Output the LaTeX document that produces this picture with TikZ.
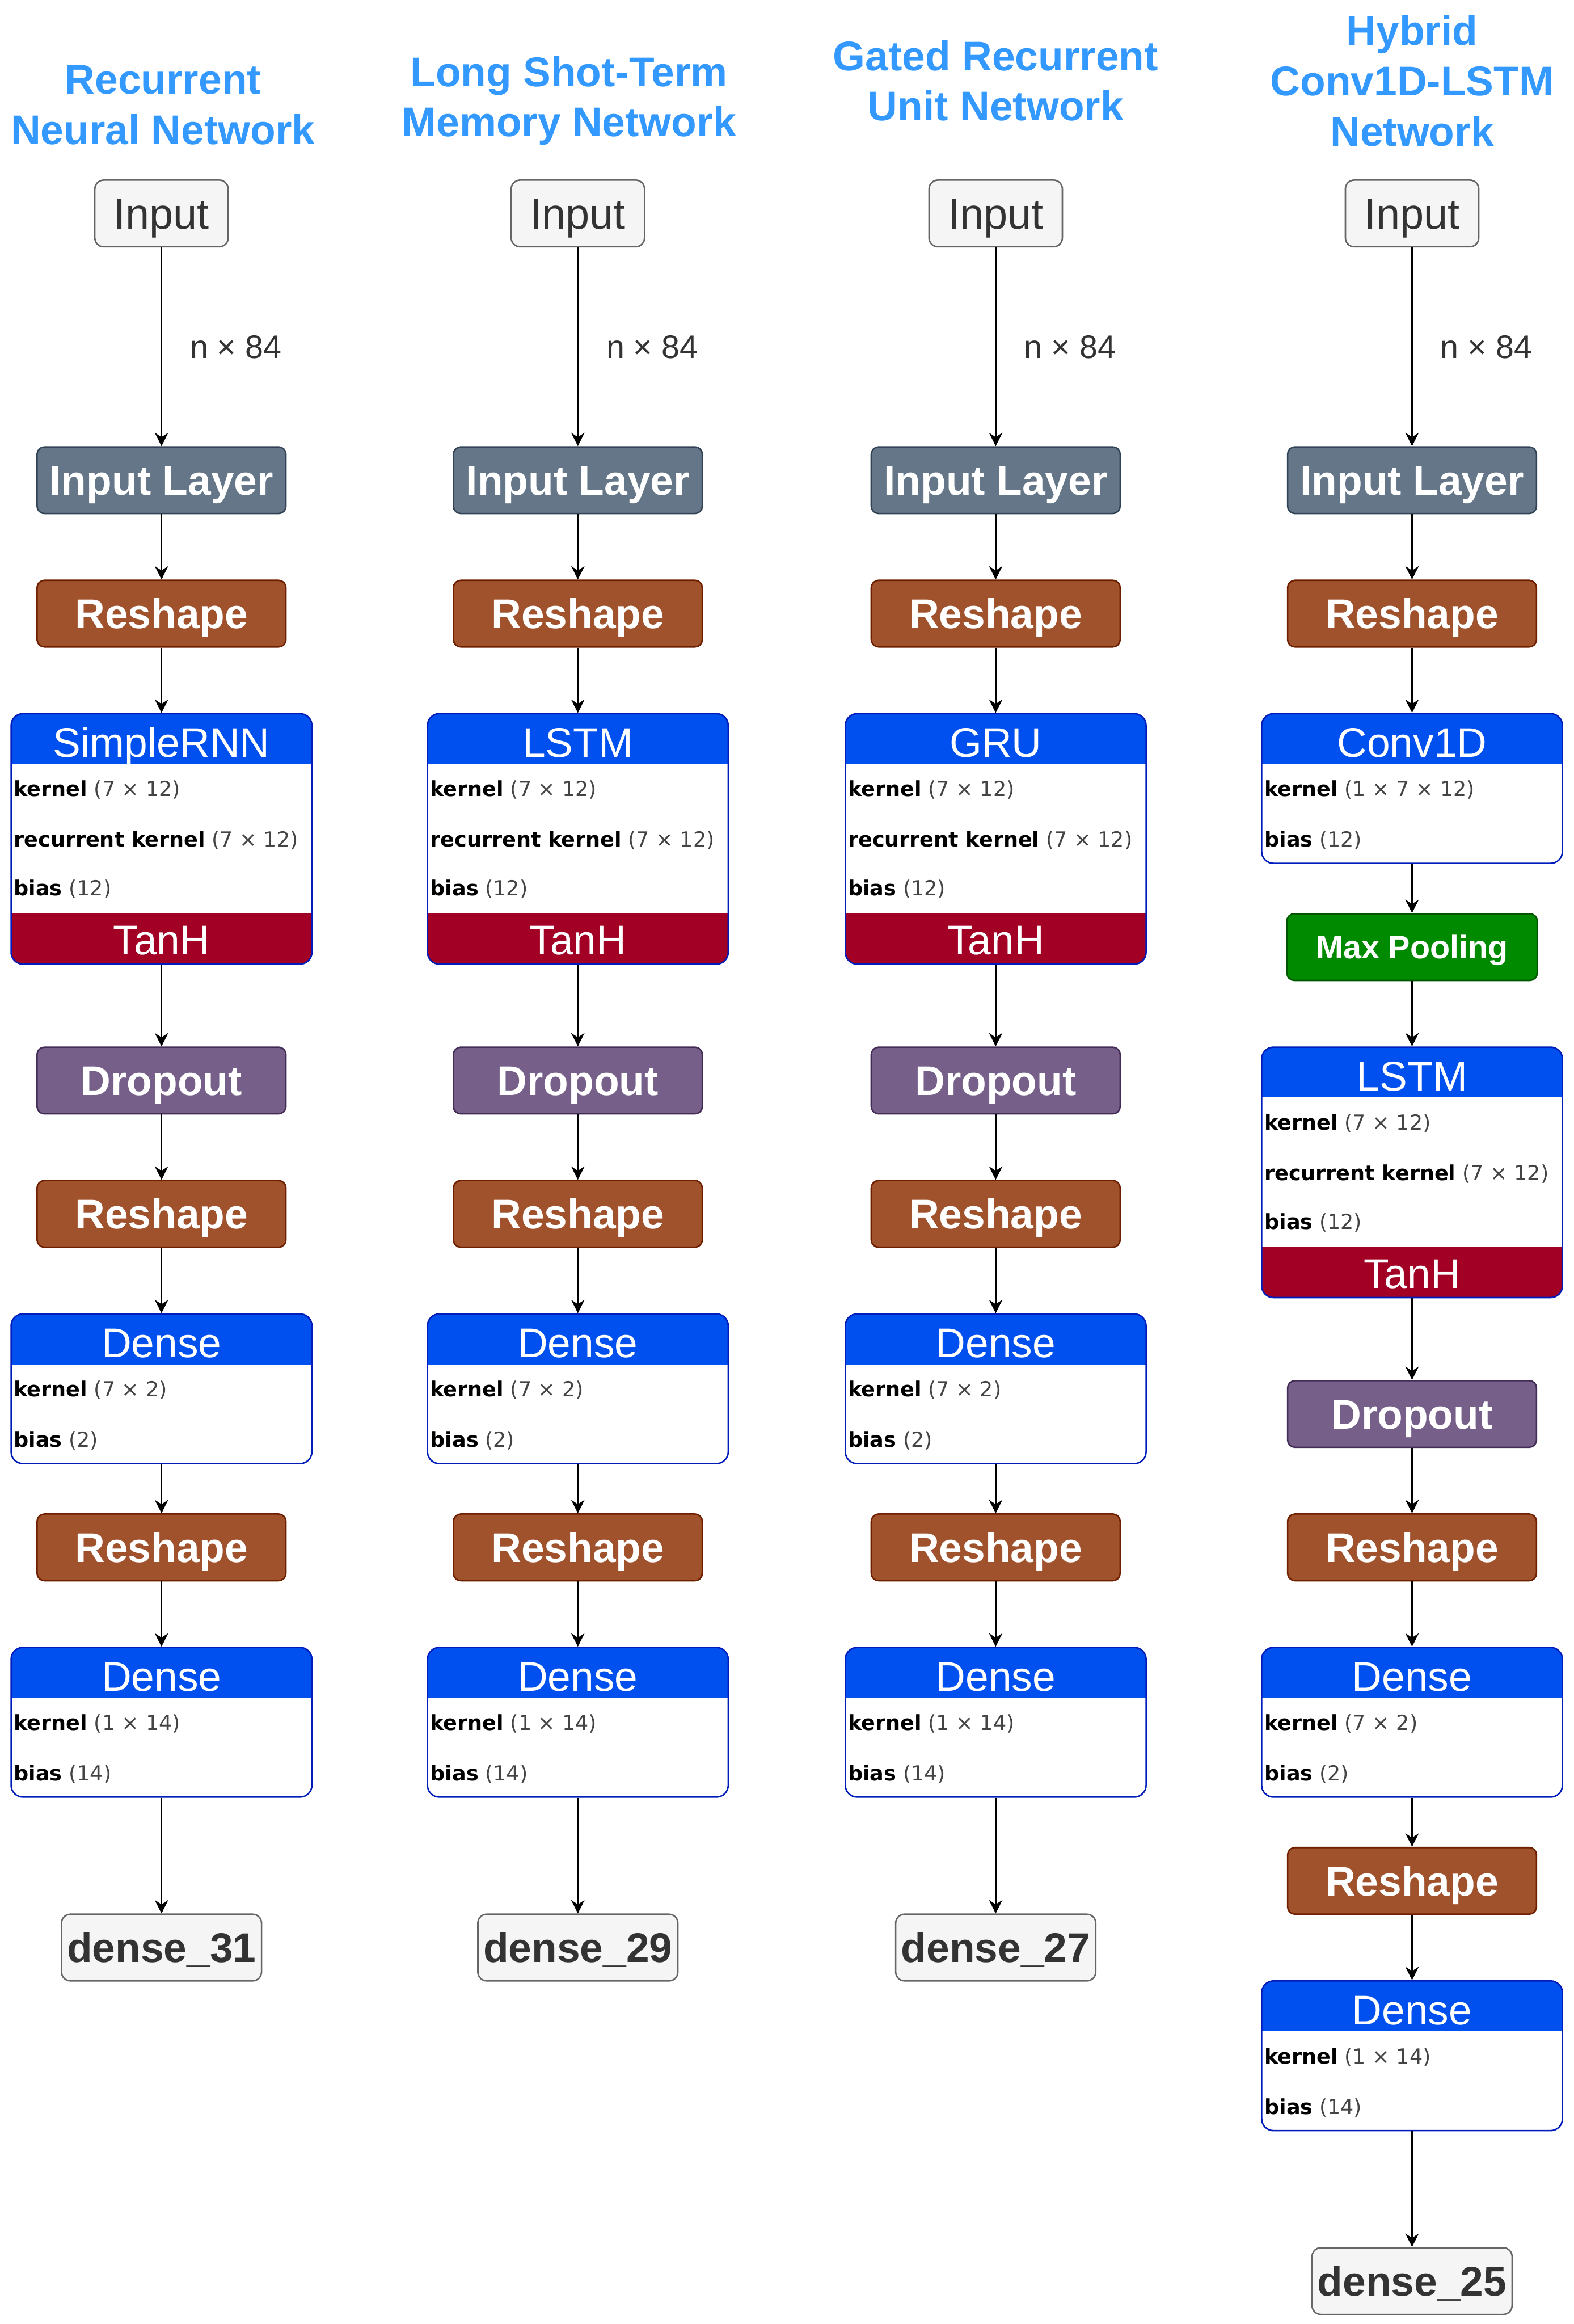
\documentclass[tikz,border=0pt]{standalone}
\usepackage{fontspec}
\setmainfont{Liberation Sans}
\newfontfamily\bodyfont{DejaVu Sans}
\usetikzlibrary{arrows.meta}

\definecolor{titleblue}{HTML}{3399FF}
\definecolor{inputfill}{HTML}{F5F5F5}
\definecolor{inputline}{HTML}{666666}
\definecolor{darktext}{HTML}{333333}
\definecolor{dimgray}{HTML}{444444}
\definecolor{ilfill}{HTML}{647687}
\definecolor{illine}{HTML}{314354}
\definecolor{rsfill}{HTML}{A0522D}
\definecolor{rsline}{HTML}{6D1F00}
\definecolor{dofill}{HTML}{76608A}
\definecolor{doline}{HTML}{432D57}
\definecolor{poolfill}{HTML}{008A00}
\definecolor{poolline}{HTML}{005700}
\definecolor{hdrfill}{HTML}{0050EF}
\definecolor{hdrline}{HTML}{001DBC}
\definecolor{tanhfill}{HTML}{A20025}

% weight name in bold, shape in grey
\newcommand{\wt}[2]{\textbf{#1} \textcolor{dimgray}{(#2)}}

\tikzset{
  box/.style={draw, rounded corners=2.5pt, minimum width=84pt, minimum height=22.5pt,
    inner sep=0pt, line width=0.5pt, text=white, text height=10pt, text depth=0pt,
    font=\fontsize{14}{16}\selectfont\bfseries},
  inbox/.style={box, minimum width=45pt, rounded corners=3pt, fill=inputfill, draw=inputline,
    text=darktext, text height=10.4pt, font=\fontsize{14.5}{16}\selectfont},
  outbox/.style={inbox, minimum width=67.5pt, text height=10pt, font=\fontsize{14}{16}\selectfont\bfseries},
  inlayer/.style={box, fill=ilfill, draw=illine},
  reshape/.style={box, fill=rsfill, draw=rsline},
  dropout/.style={box, fill=dofill, draw=doline},
  pool/.style={box, fill=poolfill, draw=poolline, minimum width=84.5pt, text height=7.9pt,
    font=\fontsize{11}{13}\selectfont\bfseries},
  layer/.style={draw=hdrline, fill=white, rounded corners=4pt, minimum width=101.5pt,
    inner sep=0pt, anchor=north, line width=0.5pt},
  denseblock/.style={layer, minimum height=50.5pt,
    path picture={\fill[hdrfill, sharp corners] (path picture bounding box.north west)
      rectangle ([yshift=-17pt]path picture bounding box.north east);}},
  cellblock/.style={layer, minimum height=84.5pt,
    path picture={\fill[hdrfill, sharp corners] (path picture bounding box.north west)
      rectangle ([yshift=-17pt]path picture bounding box.north east);
      \fill[tanhfill, sharp corners] (path picture bounding box.south west)
      rectangle ([yshift=17pt]path picture bounding box.south east);}},
  head/.style={inner sep=0pt, text=white, text height=10pt, text depth=0pt,
    font=\fontsize{14}{16}\selectfont},
  param/.style={anchor=west, inner sep=0pt, font=\bodyfont\fontsize{7}{8}\selectfont},
  nettitle/.style={align=center, text=titleblue, font=\fontsize{14}{17}\selectfont\bfseries},
  shape label/.style={right=6pt, text=darktext, font=\fontsize{11}{13}\selectfont},
  flow/.style={-{Stealth[length=4.5pt,width=4.5pt]}, line width=0.6pt}
}

\begin{document}
\begin{tikzpicture}[x=0.5pt, y=-0.5pt]
  \useasboundingbox (0,0) rectangle (1062,1568);

  \node[nettitle] (t-r) at (110,71) {Recurrent\\Neural Network};
  \node[nettitle] (t-l) at (384,68) {Long Shot-Term\\Memory Network};
  \node[nettitle] (t-g) at (672,54.5) {Gated Recurrent\\Unit Network};
  \node[nettitle] (t-h) at (953,54.5) {Hybrid\\Conv1D-LSTM\\Network};

  % the three recurrent columns
  \foreach \c/\x/\cell/\out in {r/109/SimpleRNN/31, l/390/LSTM/29, g/672/GRU/27}{
    \node[inbox] (\c-in) at (\x,144) {Input};
    \node[inlayer] (\c-il) at (\x,324) {Input Layer};
    \node[reshape] (\c-rs1) at (\x,414) {Reshape};
    \node[cellblock] (\c-cell) at (\x,481) {};
    \node[head] (\c-cell-t) at ([yshift=-10pt]\c-cell.north) {\cell};
    \node[param] (\c-cell-k) at ([xshift=1pt,yshift=-26pt]\c-cell.north west) {\wt{kernel}{7 × 12}};
    \node[param] (\c-cell-r) at ([xshift=1pt,yshift=-43pt]\c-cell.north west) {\wt{recurrent kernel}{7 × 12}};
    \node[param] (\c-cell-b) at ([xshift=1pt,yshift=-59.5pt]\c-cell.north west) {\wt{bias}{12}};
    \node[head] (\c-cell-a) at ([yshift=8.5pt]\c-cell.south) {TanH};
    \node[dropout] (\c-do) at (\x,729) {Dropout};
    \node[reshape] (\c-rs2) at (\x,819) {Reshape};
    \node[denseblock] (\c-d1) at (\x,886) {};
    \node[head] (\c-d1-t) at ([yshift=-10pt]\c-d1.north) {Dense};
    \node[param] (\c-d1-k) at ([xshift=1pt,yshift=-26pt]\c-d1.north west) {\wt{kernel}{7 × 2}};
    \node[param] (\c-d1-b) at ([xshift=1pt,yshift=-43pt]\c-d1.north west) {\wt{bias}{2}};
    \node[reshape] (\c-rs3) at (\x,1044) {Reshape};
    \node[denseblock] (\c-d2) at (\x,1111) {};
    \node[head] (\c-d2-t) at ([yshift=-10pt]\c-d2.north) {Dense};
    \node[param] (\c-d2-k) at ([xshift=1pt,yshift=-26pt]\c-d2.north west) {\wt{kernel}{1 × 14}};
    \node[param] (\c-d2-b) at ([xshift=1pt,yshift=-43pt]\c-d2.north west) {\wt{bias}{14}};
    \node[outbox] (\c-out) at (\x,1314) {dense\_\out};

    \draw[flow] (\c-in) -- node[shape label] (\c-n) {n × 84} (\c-il);
    \foreach \a/\b in {il/rs1, rs1/cell, cell/do, do/rs2, rs2/d1, d1/rs3, rs3/d2, d2/out}
      \draw[flow] (\c-\a) -- (\c-\b);
  }

  % hybrid column
  \node[inbox] (h-in) at (953,144) {Input};
  \node[inlayer] (h-il) at (953,324) {Input Layer};
  \node[reshape] (h-rs1) at (953,414) {Reshape};
  \node[denseblock] (h-conv) at (953,481) {};
  \node[head] (h-conv-t) at ([yshift=-10pt]h-conv.north) {Conv1D};
  \node[param] (h-conv-k) at ([xshift=1pt,yshift=-26pt]h-conv.north west) {\wt{kernel}{1 × 7 × 12}};
  \node[param] (h-conv-b) at ([xshift=1pt,yshift=-43pt]h-conv.north west) {\wt{bias}{12}};
  \node[pool] (h-pool) at (953,639) {Max Pooling};
  \node[cellblock] (h-cell) at (953,706) {};
  \node[head] (h-cell-t) at ([yshift=-10pt]h-cell.north) {LSTM};
  \node[param] (h-cell-k) at ([xshift=1pt,yshift=-26pt]h-cell.north west) {\wt{kernel}{7 × 12}};
  \node[param] (h-cell-r) at ([xshift=1pt,yshift=-43pt]h-cell.north west) {\wt{recurrent kernel}{7 × 12}};
  \node[param] (h-cell-b) at ([xshift=1pt,yshift=-59.5pt]h-cell.north west) {\wt{bias}{12}};
  \node[head] (h-cell-a) at ([yshift=8.5pt]h-cell.south) {TanH};
  \node[dropout] (h-do) at (953,954) {Dropout};
  \node[reshape] (h-rs2) at (953,1044) {Reshape};
  \node[denseblock] (h-d1) at (953,1111) {};
  \node[head] (h-d1-t) at ([yshift=-10pt]h-d1.north) {Dense};
  \node[param] (h-d1-k) at ([xshift=1pt,yshift=-26pt]h-d1.north west) {\wt{kernel}{7 × 2}};
  \node[param] (h-d1-b) at ([xshift=1pt,yshift=-43pt]h-d1.north west) {\wt{bias}{2}};
  \node[reshape] (h-rs3) at (953,1269) {Reshape};
  \node[denseblock] (h-d2) at (953,1336) {};
  \node[head] (h-d2-t) at ([yshift=-10pt]h-d2.north) {Dense};
  \node[param] (h-d2-k) at ([xshift=1pt,yshift=-26pt]h-d2.north west) {\wt{kernel}{1 × 14}};
  \node[param] (h-d2-b) at ([xshift=1pt,yshift=-43pt]h-d2.north west) {\wt{bias}{14}};
  \node[outbox] (h-out) at (953,1539) {dense\_25};

  \draw[flow] (h-in) -- node[shape label] (h-n) {n × 84} (h-il);
  \foreach \a/\b in {il/rs1, rs1/conv, conv/pool, pool/cell, cell/do, do/rs2, rs2/d1, d1/rs3, rs3/d2, d2/out}
    \draw[flow] (h-\a) -- (h-\b);
\end{tikzpicture}
\end{document}
